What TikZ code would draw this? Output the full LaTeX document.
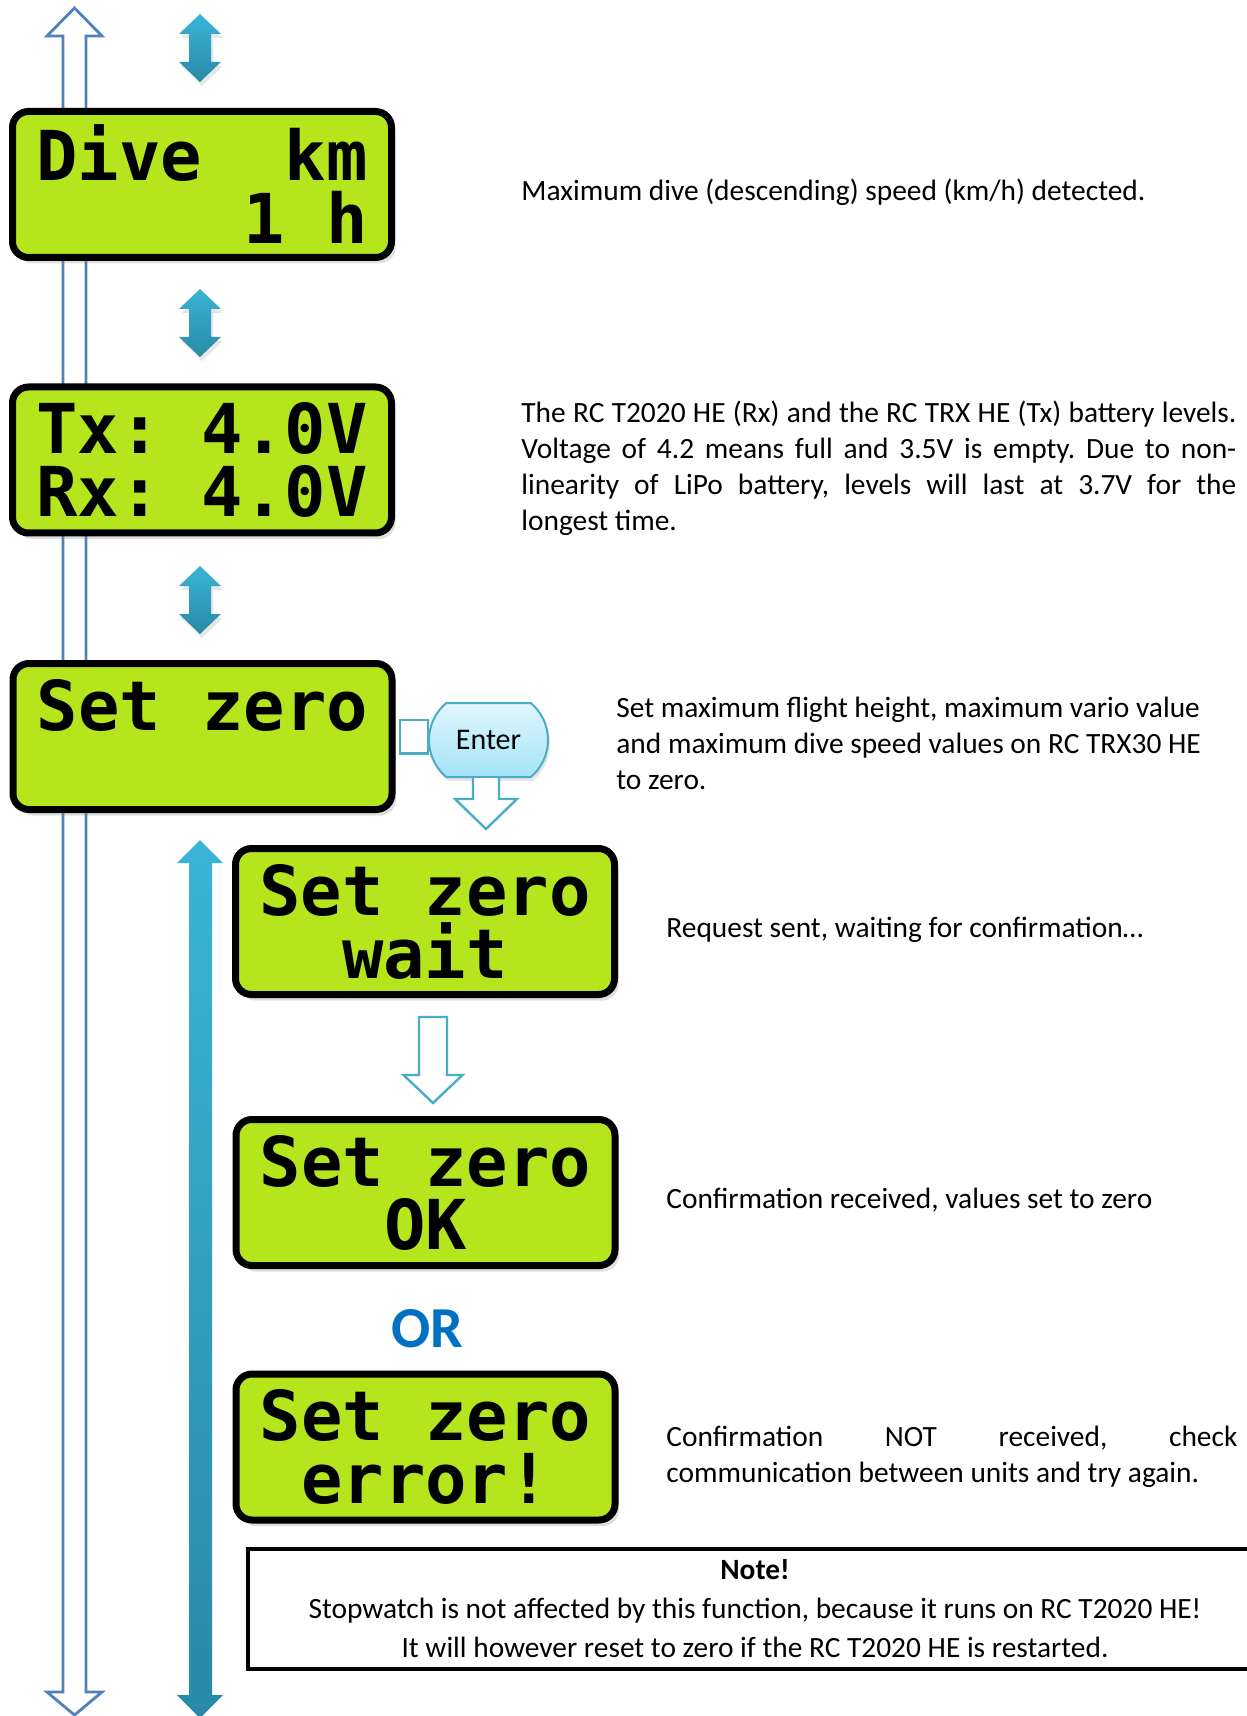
\documentclass[tikz,border=0pt]{standalone}
\usepackage{fontspec}
\setmainfont{Carlito}
\newfontfamily\lcdfont{DejaVu Sans Mono}
\usetikzlibrary{calc,shadows,shapes.misc}
\definecolor{lcdgreen}{RGB}{181,230,29}
\definecolor{tealtop}{RGB}{58,180,215}
\definecolor{tealbot}{RGB}{40,138,166}
\definecolor{navblue}{RGB}{79,129,189}
\definecolor{hollowteal}{RGB}{75,172,198}
\definecolor{orblue}{RGB}{0,112,192}
\definecolor{entertop}{RGB}{225,246,253}
\definecolor{enterbot}{RGB}{163,228,247}
\tikzset{lcd/.style = {draw, line width=3.5pt, rounded corners=8pt, fill=lcdgreen,
  minimum width=189.5pt, minimum height=73pt, inner sep=0pt, align=left,
  font=\lcdfont\bfseries\fontsize{34.4}{31.5}\selectfont,
  drop shadow={shadow xshift=2pt, shadow yshift=-3pt, opacity=0.25}}}
\tikzset{desc/.style = {anchor=base west, inner sep=0pt,
  font=\frenchspacing\fontsize{14.7}{18}\selectfont}}
\tikzset{navarrow/.style = {draw=navblue, line width=1.4pt, fill=white}}
\tikzset{tealarrow/.style = {top color=tealtop, bottom color=tealbot}}
\tikzset{hollow/.style = {draw=hollowteal, line width=1.2pt, fill=white}}
\tikzset{enterbtn/.style = {rounded rectangle, rounded rectangle arc length=100,
  draw=hollowteal, line width=1pt, top color=entertop, bottom color=enterbot,
  minimum width=59.5pt, minimum height=37pt, inner sep=0pt,
  font=\fontsize{15}{17}\selectfont,
  drop shadow={shadow xshift=1pt, shadow yshift=-2pt, opacity=0.2}}}

\begin{document}
\begin{tikzpicture}[x=0.5pt, y=-0.5pt]
\useasboundingbox (0,0) rectangle (1246,1716);
% side arrows
\draw[navarrow] (63,36) -- (47,36) -- (74.5,8) -- (102,36) -- (86,36) -- (86,1692)
  -- (102,1692) -- (74.5,1715) -- (47,1692) -- (63,1692) -- cycle;
\path[tealarrow] (189,863) -- (177,863) -- (200,840) -- (223,863) -- (212,863) -- (212,1695)
  -- (223,1695) -- (200,1718) -- (177,1695) -- (189,1695) -- cycle;
\foreach \y in {48,323,600}
  \path[tealarrow, drop shadow={shadow xshift=1pt, shadow yshift=-2pt, opacity=0.2}]
    (200,\y-34) -- (221,\y-14) -- (211,\y-14) -- (211,\y+14) -- (221,\y+14)
    -- (200,\y+34) -- (179,\y+14) -- (189,\y+14) -- (189,\y-14) -- (179,\y-14) -- cycle;

% displays
\node[lcd] (dive) at (202,184.5) {Dive~~km\\~~~~~1~h};
\node[lcd] (batt) at (202,460) {Tx:~4.0V\\Rx:~4.0V};
\node[lcd] (setz) at (202.5,736.5) {Set~zero\\\mbox{}};
\node[lcd] (wait) at (425,921.5) {Set~zero\\~~wait};
\node[lcd] (ok) at (425.5,1192.5) {Set~zero\\~~~OK};
\node[lcd] (err) at (425.5,1447) {Set~zero\\~error!};

% enter key
\node[enterbtn] (enter) at (488.5,740) {Enter};
\draw[hollow] ($(setz.east)+(4.5,-16.5)$) rectangle ($(enter.west)+(0,13.5)$);
\draw[hollow] ($(enter.south)+(-15.5,0)$) -- ++(0,21) -- ++(-18,0) -- ++(31,30)
  -- ++(31,-30) -- ++(-18,0) -- ++(0,-21);
\draw[hollow] ($(wait.south)+(-6,19)$) -- ++(28,0) -- ++(0,58) -- ++(15.5,0)
  -- ++(-29.5,28) -- ++(-29.5,-28) -- ++(15.5,0) -- cycle;

\node[font=\bfseries\fontsize{29}{30}\selectfont, text=orblue] (or) at (427,1329) {OR};

% descriptions
\node[desc] (d1) at (521,201) {Maximum dive (descending) speed (km/h) detected.};
\node[desc, text width=357.5pt, align=justify] (d2) at (521,423)
  {The RC T2020 HE (Rx) and the RC TRX HE (Tx) battery levels.\linebreak
   Voltage of 4.2 means full and 3.5V is empty. Due to non-\linebreak
   linearity of LiPo battery, levels will last at 3.7V for the\linebreak
   longest time.};
\node[desc, align=left] (d3) at (616,789)
  {Set maximum flight height, maximum vario value\\
   and maximum dive speed values on RC TRX30 HE\\
   to zero.};
\node[desc] (d4) at (666,937) {Request sent, waiting for confirmation…};
\node[desc] (d5) at (666,1208) {Confirmation received, values set to zero};
\node[desc, text width=285.5pt, align=justify] (d6) at (666,1446)
  {Confirmation NOT received, check\linebreak
   communication between units and try again.};

% note
\node[draw, line width=2pt, minimum width=507pt, minimum height=60pt, align=center,
  font=\fontsize{14.7}{19.5}\selectfont] (note) at (755,1609)
  {\textbf{Note!}\\
   Stopwatch is not affected by this function, because it runs on RC T2020 HE!\\
   It will however reset to zero if the RC T2020 HE is restarted.};
\end{tikzpicture}
\end{document}
